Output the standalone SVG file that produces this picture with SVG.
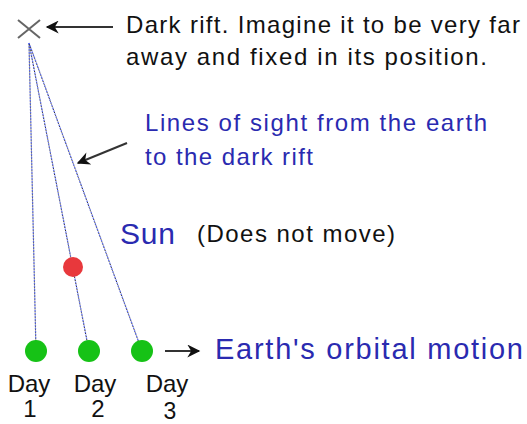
<svg xmlns="http://www.w3.org/2000/svg" width="527" height="424" viewBox="0 0 527 424">
<defs>
<style>
.t{font-family:"Liberation Sans",Arial,sans-serif;fill:#111;}
.b{fill:#2a2ab0;}
.sl{stroke:#5a6af0;stroke-width:1.3;stroke-dasharray:1.5 1.5;fill:none;}
.sd{stroke:#222;stroke-width:1;stroke-dasharray:1 2;stroke-dashoffset:1.5;fill:none;}
.ar{stroke:#333;stroke-width:2;fill:none;}
</style>
<marker id="ah" viewBox="0 0 10 10" refX="9" refY="5" markerWidth="7.5" markerHeight="6.5" orient="auto" markerUnits="strokeWidth">
<path d="M0,0 L10,5 L0,10 L3,5 Z" fill="#111"/>
</marker>
</defs>
<rect width="527" height="424" fill="#fff"/>
<g id="connectors">
<line class="sl" x1="29" y1="43" x2="36" y2="351"/>
<line class="sd" x1="29" y1="43" x2="36" y2="351"/>
<line class="sl" x1="29" y1="43" x2="89" y2="351"/>
<line class="sd" x1="29" y1="43" x2="89" y2="351"/>
<line class="sl" x1="29" y1="43" x2="142" y2="351"/>
<line class="sd" x1="29" y1="43" x2="142" y2="351"/>
<line class="ar" x1="113" y1="27" x2="47" y2="27" marker-end="url(#ah)"/>
<line class="ar" x1="127" y1="143" x2="78" y2="163" marker-end="url(#ah)"/>
<line class="ar" x1="165" y1="351" x2="199" y2="351" marker-end="url(#ah)"/>
</g>
<g id="darkrift">
<path d="M18,20 L40,38 M40,20 L18,38" stroke="#666" stroke-width="2" fill="none"/>
<text class="t" x="126" y="33" font-size="24" textLength="394" lengthAdjust="spacing">Dark rift. Imagine it to be very far</text>
<text class="t" x="126" y="65" font-size="24" textLength="361" lengthAdjust="spacing">away and fixed in its position.</text>
</g>
<g id="lines-label">
<text class="t b" x="145" y="131" font-size="24" textLength="342" lengthAdjust="spacing">Lines of sight from the earth</text>
<text class="t b" x="145" y="165" font-size="24" textLength="168" lengthAdjust="spacing">to the dark rift</text>
</g>
<g id="sun">
<circle cx="73" cy="267" r="10" fill="#e8383c"/>
<text class="t b" x="120" y="244" font-size="30" textLength="55" lengthAdjust="spacing">Sun</text>
<text class="t" x="197" y="242" font-size="24" textLength="198" lengthAdjust="spacing">(Does not move)</text>
</g>
<g id="day1">
<circle cx="36" cy="351" r="11" fill="#16c216"/>
<text class="t" x="29" y="392" font-size="24" text-anchor="middle">Day</text>
<text class="t" x="30" y="417" font-size="24" text-anchor="middle">1</text>
</g>
<g id="day2">
<circle cx="89" cy="351" r="11" fill="#16c216"/>
<text class="t" x="95" y="392" font-size="24" text-anchor="middle">Day</text>
<text class="t" x="98" y="417" font-size="24" text-anchor="middle">2</text>
</g>
<g id="day3">
<circle cx="142" cy="351" r="11" fill="#16c216"/>
<text class="t" x="167" y="392" font-size="24" text-anchor="middle">Day</text>
<text class="t" x="170" y="419" font-size="23" text-anchor="middle">3</text>
</g>
<g id="motion">
<text class="t b" x="215" y="359" font-size="29" textLength="308" lengthAdjust="spacing">Earth's orbital motion</text>
</g>
</svg>
